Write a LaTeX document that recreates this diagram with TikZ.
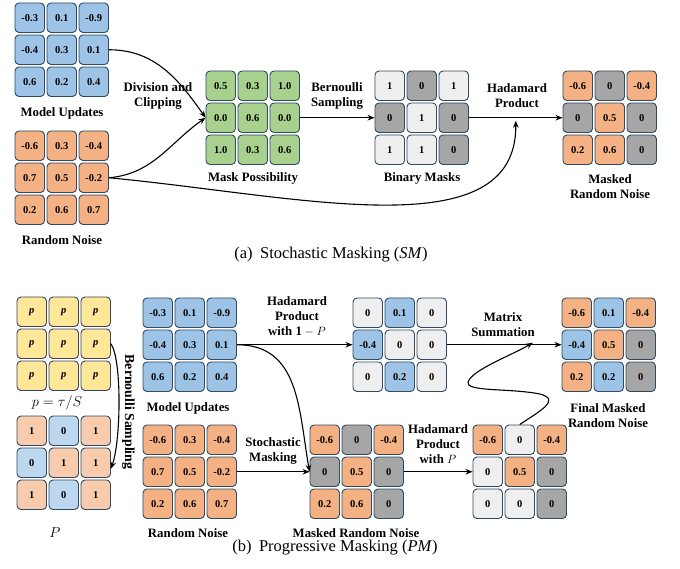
\documentclass[tikz,border=0pt]{standalone}
\usepackage{fontspec}
\setmainfont{Liberation Serif}
\usetikzlibrary{arrows.meta,calc}
\definecolor{cblue}{HTML}{9DC3E6}
\definecolor{corange}{HTML}{F4B183}
\definecolor{cgreen}{HTML}{A9D18E}
\definecolor{clgray}{HTML}{EFEFEF}
\definecolor{cdgray}{HTML}{A6A6A6}
\definecolor{cyellow}{HTML}{FFE699}
\definecolor{cporange}{HTML}{F8CBAD}
\definecolor{cpblue}{HTML}{BDD7EE}
\definecolor{cborder}{HTML}{2F4A63}
\tikzset{
 cell/.style={draw=cborder, line width=0.9pt, rounded corners=4pt, minimum width=29.5pt, minimum height=29.5pt, inner sep=0pt, font=\fontsize{10.5}{12}\selectfont\bfseries},
 lbl/.style={font=\fontsize{12.8}{15}\selectfont\bfseries, align=center, inner sep=0pt},
 captext/.style={font=\fontsize{16.5}{18}\selectfont, inner sep=0pt},
 arr/.style={-{Stealth[length=7pt,width=5.5pt]}, line width=1.1pt},
}
\newcommand\mgrid[4]{%
 \foreach [count=\i from 0] \ff/\vv in {#4} {
   \pgfmathtruncatemacro\rr{\i/3}
   \pgfmathtruncatemacro\cc{mod(\i,3)}
   \node[cell, fill=\ff] (#1-\rr\cc) at ({#2+14.75+\cc*32},{#3+14.75+\rr*32}) {\vv};
 }}
\begin{document}
\begin{tikzpicture}[x=1pt,y=-1pt]
\useasboundingbox (0,0) rectangle (680,569);
% ---------- (a) ----------
\mgrid{mu}{15}{3}{cblue/-0.3,cblue/0.1,cblue/-0.9,cblue/-0.4,cblue/0.3,cblue/0.1,cblue/0.6,cblue/0.2,cblue/0.4}
\mgrid{rn}{15}{131}{corange/-0.6,corange/0.3,corange/-0.4,corange/0.7,corange/0.5,corange/-0.2,corange/0.2,corange/0.6,corange/0.7}
\mgrid{mp}{206}{71}{cgreen/0.5,cgreen/0.3,cgreen/1.0,cgreen/0.0,cgreen/0.6,cgreen/0.0,cgreen/1.0,cgreen/0.3,cgreen/0.6}
\mgrid{bm}{375}{71}{clgray/1,cdgray/0,clgray/1,cdgray/0,clgray/1,cdgray/0,clgray/1,clgray/1,cdgray/0}
\mgrid{mrn}{563}{71}{corange/-0.6,cdgray/0,corange/-0.4,cdgray/0,corange/0.5,cdgray/0,corange/0.2,corange/0.6,cdgray/0}

\node[lbl] (lmu) at (62,113) {Model Updates};
\node[lbl] (lrn) at (62,240) {Random Noise};
\node[lbl] (lmp) at (253,178) {Mask Possibility};
\node[lbl] (lbm) at (422,178) {Binary Masks};
\node[lbl] (lmrn) at (610,187) {Masked\\Random Noise};
\node[lbl] (ldc) at (158,95.5) {Division and\\Clipping};
\node[lbl] (lbs) at (337,95.5) {Bernoulli\\Sampling};
\node[lbl] (lhp) at (517,95.5) {Hadamard\\Product};

\coordinate (hp) at ($(bm-12.east)!0.5!(mrn-10.west)$);
\draw[arr] (mu-12.east) to[out=0,in=125] (mp-10.west);
\draw[arr] (rn-12.east) to[out=5,in=-145] (mp-10.west);
\draw[arr] (mp-12.east) -- (bm-10.west);
\draw[arr] (bm-12.east) -- (mrn-10.west);
\draw[arr] (rn-12.east) .. controls (300,196) and (517,250) .. ([yshift=-3pt]hp);

\node[captext] (capa) at (331,255) {(a)\hspace{0.45em}Stochastic Masking (\textit{SM})};

% ---------- (b) ----------
\mgrid{pp}{17}{297}{cyellow/\textbf{\textit{p}},cyellow/\textbf{\textit{p}},cyellow/\textbf{\textit{p}},cyellow/\textbf{\textit{p}},cyellow/\textbf{\textit{p}},cyellow/\textbf{\textit{p}},cyellow/\textbf{\textit{p}},cyellow/\textbf{\textit{p}},cyellow/\textbf{\textit{p}}}
\mgrid{pb}{17}{416}{cporange/1,cpblue/0,cporange/1,cpblue/0,cporange/1,cporange/1,cporange/1,cpblue/0,cporange/1}
\mgrid{mub}{143}{298}{cblue/-0.3,cblue/0.1,cblue/-0.9,cblue/-0.4,cblue/0.3,cblue/0.1,cblue/0.6,cblue/0.2,cblue/0.4}
\mgrid{rnb}{143}{425}{corange/-0.6,corange/0.3,corange/-0.4,corange/0.7,corange/0.5,corange/-0.2,corange/0.2,corange/0.6,corange/0.7}
\mgrid{res}{353}{298}{clgray/0,cblue/0.1,clgray/0,cblue/-0.4,clgray/0,clgray/0,clgray/0,cblue/0.2,clgray/0}
\mgrid{fin}{562}{298}{corange/-0.6,cblue/0.1,corange/-0.4,cblue/-0.4,corange/0.5,cdgray/0,corange/0.2,cblue/0.2,cdgray/0}
\mgrid{mrb}{310}{425}{corange/-0.6,cdgray/0,corange/-0.4,cdgray/0,corange/0.5,cdgray/0,corange/0.2,corange/0.6,cdgray/0}
\mgrid{pm}{473}{425}{corange/-0.6,clgray/0,corange/-0.4,clgray/0,corange/0.5,cdgray/0,clgray/0,clgray/0,cdgray/0}

\node[lbl, font=\fontsize{14}{15}\selectfont] (lpp) at (57,403) {$p=\tau/S$};
\node[lbl, font=\fontsize{14}{15}\selectfont] (lpb) at (55,533) {$P$};
\node[lbl, rotate=-90, font=\fontsize{13.8}{15}\selectfont\bfseries] (lbs2) at (128.5,412) {Bernoulli Sampling};
\node[lbl] (lmub) at (188,408) {Model Updates};
\node[lbl] (lrnb) at (188,533) {Random Noise};
\node[lbl] (lhp1) at (297,317) {Hadamard\\Product\\with $\mathbf{1}-P$};
\node[lbl] (lms) at (503,325) {Matrix\\Summation};
\node[lbl] (lfin) at (608,415.5) {Final Masked\\Random Noise};
\node[lbl] (lsm) at (273,450.5) {Stochastic\\Masking};
\node[lbl] (lmrb) at (356,533) {Masked Random Noise};
\node[lbl] (lhp2) at (438,444) {Hadamard\\Product\\with $P$};

\coordinate (ms) at ($(res-12.east)!0.75!(fin-10.west)$);
\draw[arr] (pp-12.east) .. controls (122,360) and (121,440) .. ([yshift=-6pt]pb-12.east);
\draw[arr] (mub-12.east) -- (res-10.west);
\draw[arr] (mub-12.east) to[out=0,in=100,looseness=1.1] (mrb-10.west);
\draw[arr] (rnb-12.east) -- (mrb-10.west);
\draw[arr] (res-12.east) -- (fin-10.west);
\draw[arr] (mrb-12.east) -- (pm-10.west);
\draw[arr] (pm-01.north) .. controls (538,412) and (562,400) .. (540,394) .. controls (510,388) and (465,392) .. (468,382) .. controls (472,370) and (510,356) .. ([yshift=2pt]ms);

\node[captext] (capb) at (335,548) {(b)\hspace{0.45em}Progressive Masking (\textit{PM})};
\end{tikzpicture}
\end{document}
